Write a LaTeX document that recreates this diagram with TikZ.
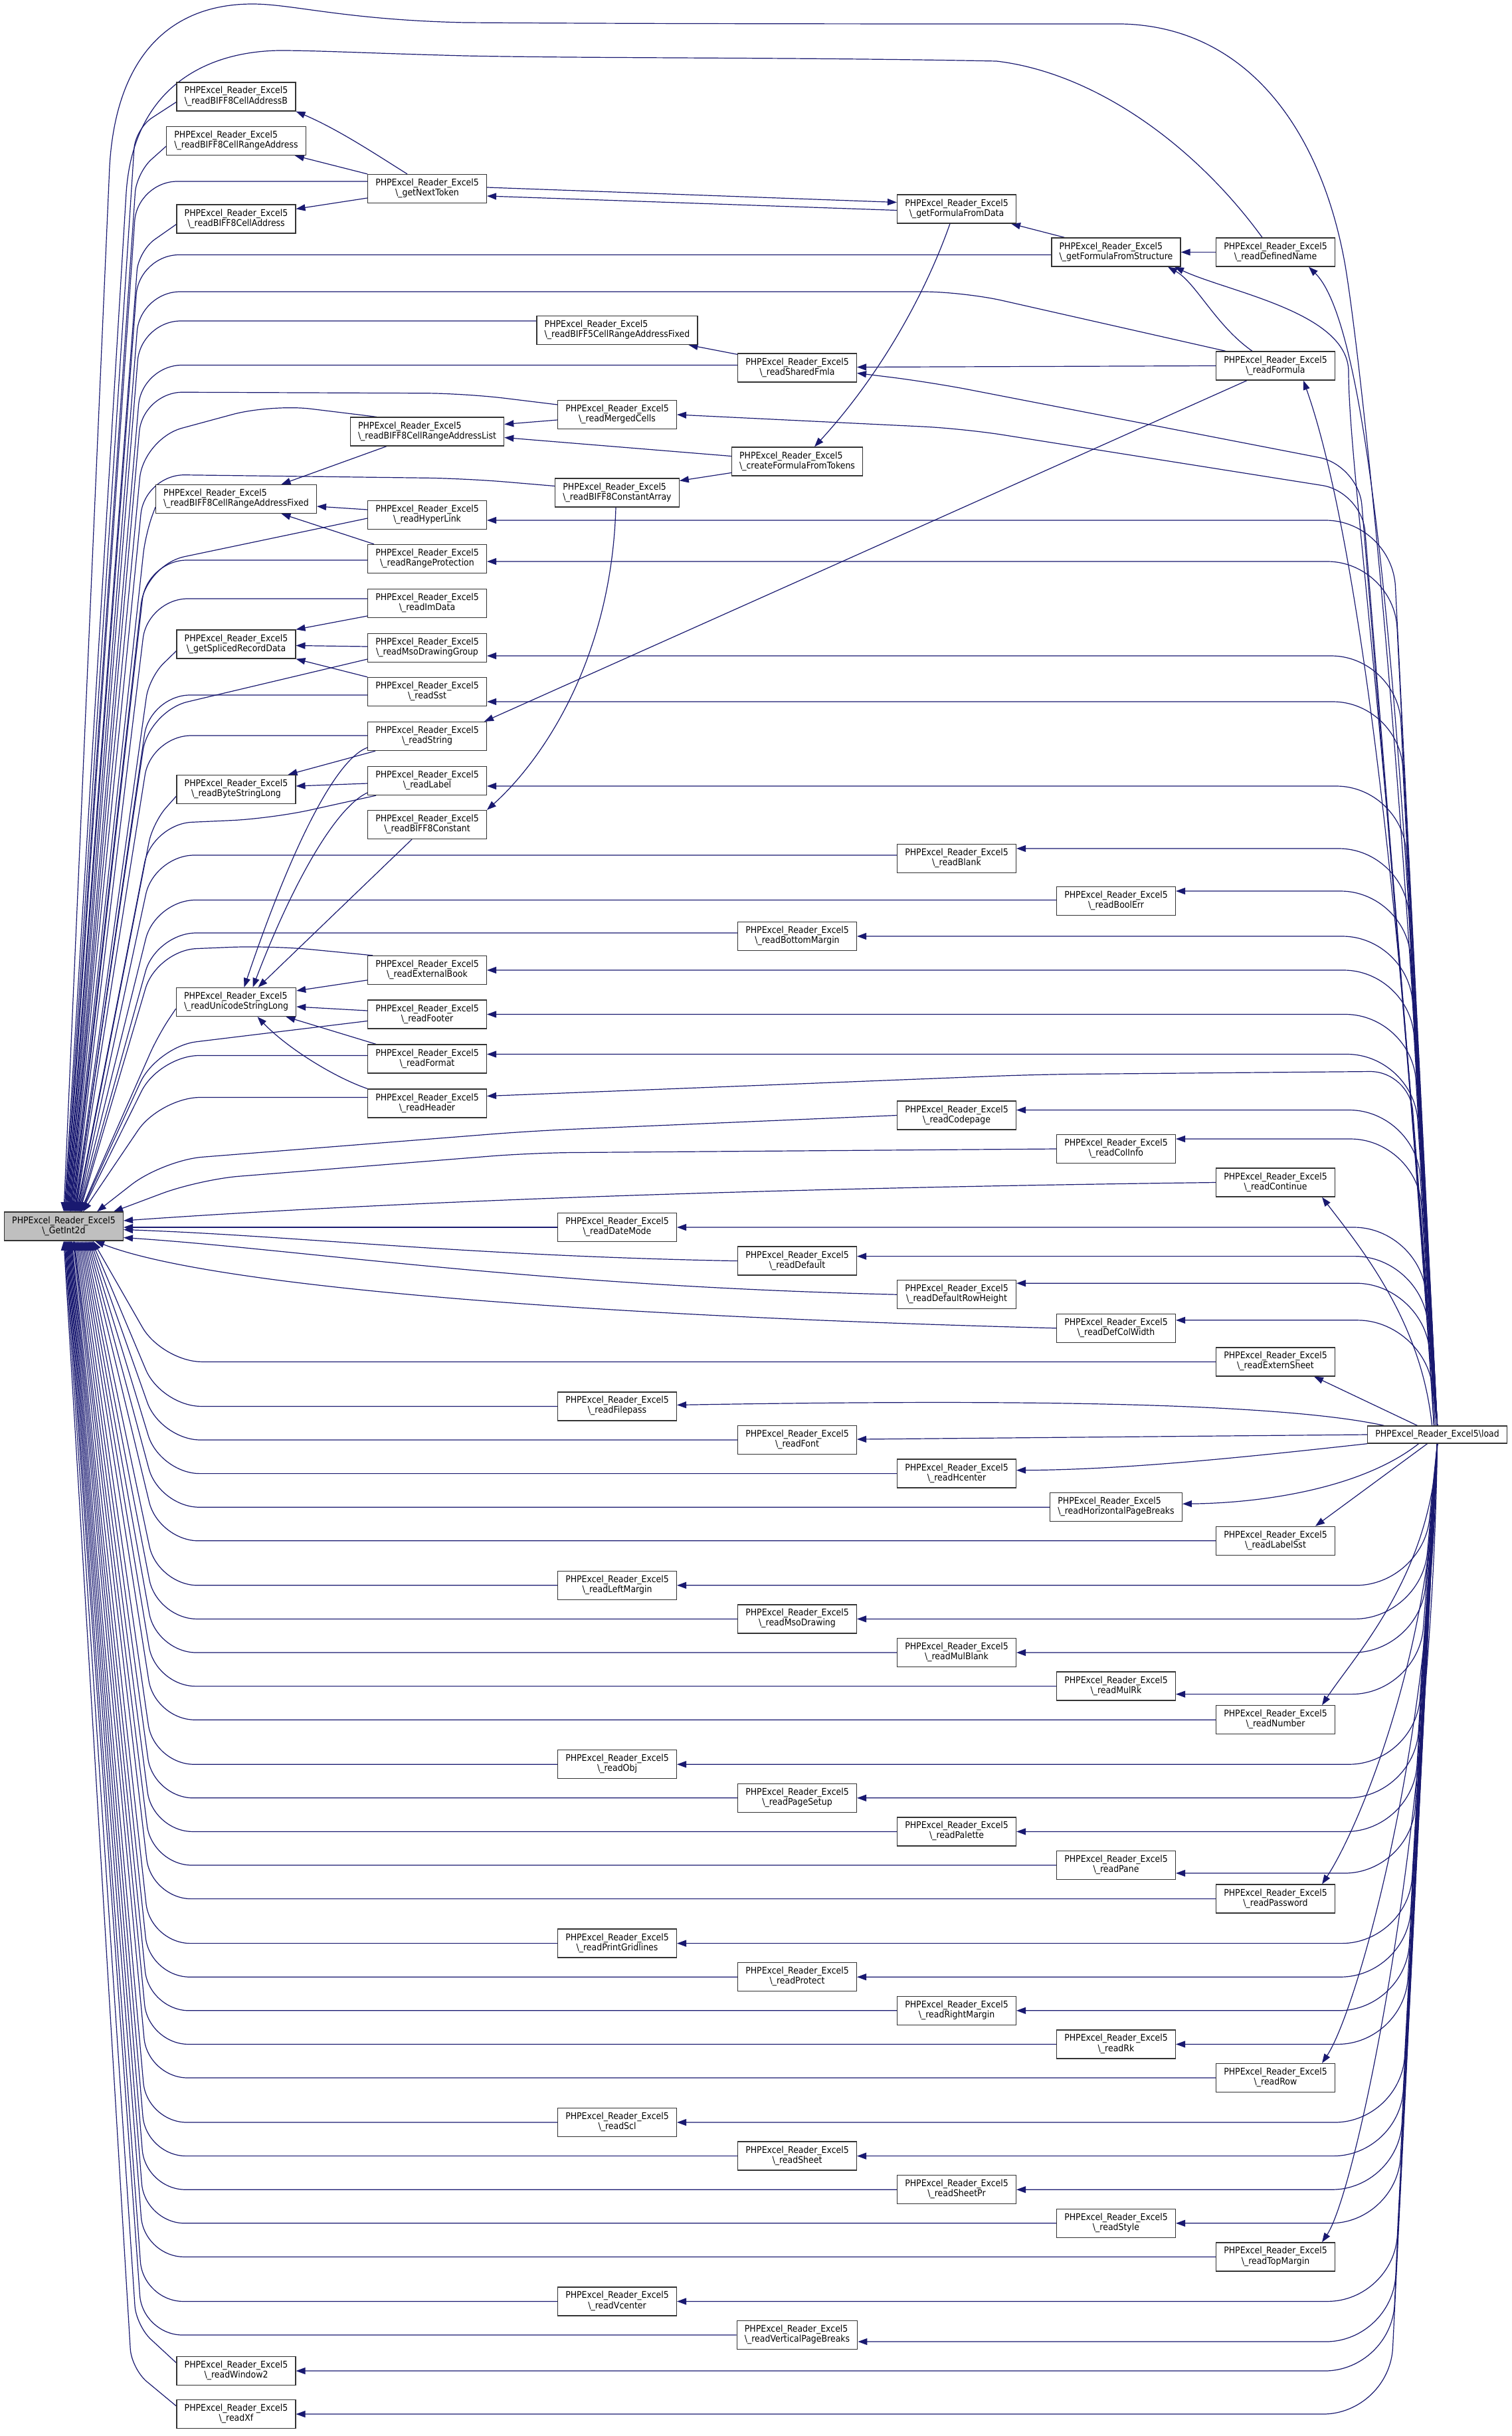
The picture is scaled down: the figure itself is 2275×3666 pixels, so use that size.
\documentclass[tikz,border=0pt]{standalone}
\usepackage{fontspec}
\setmainfont{DejaVu Sans}[FakeStretch=0.9]
\usetikzlibrary{arrows.meta,calc}
\pgfdeclarelayer{bg}
\pgfsetlayers{bg,main}
\definecolor{edgec}{HTML}{191970}
\definecolor{boxc}{HTML}{333333}
\definecolor{gfill}{HTML}{BFBFBF}
\newcommand\lbl[1]{\begin{tabular}{@{}l@{}}PHPExcel\_Reader\_Excel5\\\multicolumn{1}{@{}c@{}}{\textbackslash\_#1}\end{tabular}}
\newcommand\nd[4]{\node[nd] (#1) at (#2,#3) {\lbl{#4}};}
% edges into GetInt2d
\newcommand\gU[2]{\draw[e] let \p1=(#1) in (\p1) -- ({200pt-0.025*(\y1)},\y1) -- ([xshift=#2]G.north);}
\newcommand\gA[2]{\draw[e,rounded corners=30pt] let \p1=(#1) in (\p1) -- ({200pt-0.025*(\y1)},{\y1-40pt}) -- ([xshift=#2]G.north);}
\newcommand\gD[2]{\draw[e] let \p1=(#1) in (\p1) -- ({245pt+0.02*(\y1+2000pt)},\y1) -- ([xshift=#2]G.south);}
% edges from load
\newcommand\lU[1]{\draw[e,rounded corners=100pt] let \p1=(#1) in (load.north) -- ({2150pt-0.04*(2146pt+\y1)},\y1) -- (\p1);}
\newcommand\lD[1]{\draw[e,rounded corners=100pt] let \p1=(#1) in (load.south) -- ({2150pt+0.04*(2172pt+\y1)},\y1) -- (\p1);}
\begin{document}
\begin{tikzpicture}[x=1pt,y=-1pt,
  nd/.style={draw=boxc,line width=1.3pt,fill=white,inner xsep=11.6pt,inner ysep=0pt,minimum height=43pt,font=\fontsize{13.9}{15}\selectfont},
  e/.style={draw=edgec,line width=1.2pt,-{Triangle[length=14pt,width=10pt]},rounded corners=60pt}]
\useasboundingbox (0,0) rectangle (2275,3666);
% ---------------- nodes
\node[nd,fill=gfill] (G) at (96,1845.5) {\lbl{GetInt2d}};
\node[nd,minimum height=26pt] (load) at (2163.5,2159) {PHPExcel\_Reader\_Excel5\textbackslash load};
\nd{rB8CAB}{355.5}{145.5}{readBIFF8CellAddressB}
\nd{rB8CRA}{355.5}{212}{readBIFF8CellRangeAddress}
\nd{gNT}{643}{284}{getNextToken}
\nd{rB8CA}{355.5}{329.5}{readBIFF8CellAddress}
\nd{gFFD}{1440}{314.5}{getFormulaFromData}
\nd{gFFS}{1680}{379.5}{getFormulaFromStructure}
\nd{rDN}{1920}{379.5}{readDefinedName}
\nd{rB5}{929}{497}{readBIFF5CellRangeAddressFixed}
\nd{rSF}{1200}{553.5}{readSharedFmla}
\nd{rF}{1920}{550.5}{readFormula}
\nd{rMC}{929}{624}{readMergedCells}
\nd{rB8L}{643}{649.5}{readBIFF8CellRangeAddressList}
\nd{cFFT}{1200}{694.5}{createFormulaFromTokens}
\nd{rB8CArr}{929}{741.5}{readBIFF8ConstantArray}
\nd{rB8CRAF}{355.5}{751}{readBIFF8CellRangeAddressFixed}
\nd{rHL}{643}{775}{readHyperLink}
\nd{rRP}{643}{841}{readRangeProtection}
\nd{rID}{643}{908}{readImData}
\nd{gSRD}{355.5}{969.5}{getSplicedRecordData}
\nd{rMDG}{643}{975}{readMsoDrawingGroup}
\nd{rSst}{643}{1041}{readSst}
\nd{rS}{643}{1108}{readString}
\nd{rL}{643}{1175}{readLabel}
\nd{rBSL}{355.5}{1188}{readByteStringLong}
\nd{rB8C}{643}{1241}{readBIFF8Constant}
\nd{rBlank}{1440}{1292}{readBlank}
\nd{rBE}{1680}{1356}{readBoolErr}
\nd{rBM}{1200}{1409}{readBottomMargin}
\nd{rEB}{643}{1460}{readExternalBook}
\nd{rUSL}{355.5}{1508}{readUnicodeStringLong}
\nd{rFoot}{643}{1526.5}{readFooter}
\nd{rFmt}{643}{1593.5}{readFormat}
\nd{rHdr}{643}{1660.5}{readHeader}
\nd{rCP}{1440}{1678.5}{readCodepage}
\nd{rCI}{1680}{1729}{readColInfo}
\nd{rCont}{1920}{1779.5}{readContinue}
\nd{rDM}{929}{1847}{readDateMode}
\nd{rDef}{1200}{1897.6}{readDefault}
\nd{rDRH}{1440}{1948.2}{readDefaultRowHeight}
\nd{rDCW}{1680}{1998.8}{readDefColWidth}
\nd{rES}{1920}{2049.4}{readExternSheet}
\nd{rFP}{929}{2116.4}{readFilepass}
\nd{rFont}{1200}{2167}{readFont}
\nd{rHc}{1440}{2217.6}{readHcenter}
\nd{rHPB}{1680}{2268.2}{readHorizontalPageBreaks}
\nd{rLS}{1920}{2318.8}{readLabelSst}
\nd{rLM}{929}{2385.8}{readLeftMargin}
\nd{rMD}{1200}{2436.4}{readMsoDrawing}
\nd{rMB}{1440}{2487}{readMulBlank}
\nd{rMR}{1680}{2537.6}{readMulRk}
\nd{rNum}{1920}{2588.2}{readNumber}
\nd{rObj}{929}{2655.2}{readObj}
\nd{rPS}{1200}{2705.8}{readPageSetup}
\nd{rPal}{1440}{2756.4}{readPalette}
\nd{rPane}{1680}{2807}{readPane}
\nd{rPw}{1920}{2857.6}{readPassword}
\nd{rPG}{929}{2924.6}{readPrintGridlines}
\nd{rProt}{1200}{2975.2}{readProtect}
\nd{rRM}{1440}{3025.8}{readRightMargin}
\nd{rRk}{1680}{3076.4}{readRk}
\nd{rRow}{1920}{3127}{readRow}
\nd{rScl}{929}{3194}{readScl}
\nd{rSh}{1200}{3244.6}{readSheet}
\nd{rSPr}{1440}{3295.2}{readSheetPr}
\nd{rSty}{1680}{3345.8}{readStyle}
\nd{rTM}{1920}{3396.4}{readTopMargin}
\nd{rVc}{929}{3463.4}{readVcenter}
\nd{rVPB}{1200}{3514}{readVerticalPageBreaks}
\nd{rW2}{355.5}{3568}{readWindow2}
\nd{rXf}{355.5}{3633}{readXf}
\begin{pgfonlayer}{bg}
% ---------------- edges among the upper nodes
\draw[e,sharp corners] ([xshift=-30]gNT.north) .. controls (570,235) and (510,195) .. (rB8CAB.south east);
\draw[e] (gNT.north west) -- ([xshift=-17]rB8CRA.south east);
\draw[e] ([yshift=-14]gNT.west) -- ([yshift=15]rB8CA.east);
\draw[e] ([yshift=2]gNT.east) -- ([yshift=10]gFFD.west);
\draw[e] ([yshift=-2]gFFD.west) -- ([yshift=-11]gNT.east);
\draw[e,sharp corners] ([xshift=-10]gFFD.south) .. controls (1390,450) and (1320,570) .. ([xshift=26]cFFT.north);
\draw[e] ([xshift=20]gFFS.north west) -- ([xshift=-8]gFFD.south east);
\draw[e] (rDN.west) -- (gFFS.east);
\draw[e,sharp corners] ([xshift=-35]rF.north) .. controls (1830,490) and (1800,425) .. ([xshift=78]gFFS.south);
\draw[e] (rF.west) -- ([yshift=1]rSF.east);
\draw[e] ([xshift=-43]rF.south) -- ([xshift=-4]rS.north east);
\draw[e] ([yshift=-2]rSF.north west) -- ([xshift=-14]rB5.south east);
\draw[e] ([yshift=-8]rMC.west) -- ([yshift=11]rB8L.east);
\draw[e] ([yshift=8]cFFT.west) -- ([yshift=-9]rB8L.east);
\draw[e] ([yshift=-17]cFFT.west) -- ([yshift=18]rB8CArr.east);
\draw[e,sharp corners] ([xshift=-2]rB8CArr.south) .. controls (920,1000) and (810,1150) .. (rB8C.north east);
\draw[e] ([xshift=-61]rB8L.south) -- ([xshift=68]rB8CRAF.north);
\draw[e] ([yshift=8]rHL.west) -- ([yshift=-11]rB8CRAF.east);
\draw[e] ([xshift=10]rRP.north west) -- ([xshift=68]rB8CRAF.south);
\draw[e] ([yshift=-19]rID.west) -- (gSRD.north east);
\draw[e] ([yshift=2]rMDG.west) -- ([yshift=-2]gSRD.east);
\draw[e] (rSst.north west) -- (gSRD.south east);
\draw[e] ([xshift=12]rS.south west) -- ([xshift=-12]rBSL.north east);
\draw[e] ([yshift=-4]rL.west) -- ([yshift=5]rBSL.east);
\draw[e,sharp corners] ([yshift=-17]rS.west) .. controls (500,1145) and (430,1300) .. ([xshift=12]rUSL.north);
\draw[e,sharp corners] ([yshift=-18]rL.west) .. controls (505,1215) and (440,1330) .. ([xshift=25]rUSL.north);
\draw[e] ([xshift=-23]rB8C.south) -- ([xshift=33]rUSL.north);
\draw[e] ([yshift=-15]rEB.west) -- ([yshift=17]rUSL.east);
\draw[e] ([yshift=5.5]rFoot.west) -- ([yshift=-7]rUSL.east);
\draw[e] ([xshift=13]rFmt.north west) -- ([xshift=75]rUSL.south);
\draw[e,sharp corners] (rHdr.north west) .. controls (500,1620) and (430,1575) .. ([xshift=32]rUSL.south);
% ---------------- edges into GetInt2d from above
\draw[e,sharp corners] ([xshift=-3]load.north) .. controls (2120,1200) and (2050,550) .. (2025,400) .. controls (1990,200) and (1880,40) .. (1688,36) .. controls (1300,36) and (1000,36) .. (700,34) .. controls (520,30) and (440,6) .. (380,6) .. controls (260,6) and (175,80) .. (165,250) -- (G.north);
\draw[e,sharp corners] ([xshift=-20]rDN.north) .. controls (1800,220) and (1650,110) .. (1500,92) .. controls (1200,86) and (900,88) .. (700,84) .. controls (550,80) and (480,76) .. (420,76) .. controls (300,78) and (200,140) .. (190,290) -- ([xshift=1]G.north);
\gA{[yshift=-8]rB8CAB.west}{2}
\gA{[yshift=-8]rB8CRA.west}{3}
\gU{[yshift=11]gNT.west}{4}
\gA{[yshift=-8]rB8CA.west}{5}
\gU{[yshift=-4]gFFS.west}{6}
\draw[e] ([xshift=15]rF.north west) -- (1450,439) -- (211,439) -- ([xshift=7]G.north);
\gU{[yshift=14]rB5.west}{8}
\gU{[yshift=4]rSF.west}{9}
\draw[e] ([yshift=15]rMC.west) -- (700,592) -- (215,590) -- ([xshift=10]G.north);
\draw[e] ([xshift=40]rB8L.north west) -- (408,608) -- (216,660) -- ([xshift=10]G.north);
\draw[e] ([yshift=10]rB8CArr.west) -- (700,720) -- (218,714) -- ([xshift=11]G.north);
\gA{[yshift=-12]rB8CRAF.west}{12}
\draw[e] ([yshift=-5]rHL.west) -- (219,850) -- ([xshift=13]G.north);
\gU{[yshift=-2]rRP.west}{14}
\gU{[yshift=7]rID.west}{15}
\gA{[yshift=-10]gSRD.west}{16}
\draw[e] ([yshift=-17]rMDG.west) -- (224,1070) -- ([xshift=17]G.north);
\gU{[yshift=-5]rSst.west}{17}
\gU{[yshift=1]rS.west}{18}
\draw[e] ([xshift=13]rL.south west) -- (408,1232) -- (229,1240) -- ([xshift=19]G.north);
\gA{[yshift=-10]rBSL.west}{20}
\gU{[yshift=5]rBlank.west}{21}
\gU{[yshift=1.5]rBE.west}{22}
\gU{[yshift=5]rBM.west}{23}
\draw[e] ([xshift=8]rEB.north west) -- (408,1423) -- (236,1430) -- ([xshift=24]G.north);
\gA{[yshift=-10]rUSL.west}{25}
\draw[e] ([yshift=-10]rFoot.west) -- (236,1575) -- ([xshift=26]G.north);
\gU{[yshift=5]rFmt.west}{27}
\gU{[yshift=9]rHdr.west}{29}
\draw[e] (rCP.west) -- (800,1702) -- (245,1746) -- ([xshift=50]G.north);
\draw[e] (rCI.west) -- (800,1735) -- (300,1775) -- ([xshift=75]G.north);
% ---------------- into GetInt2d from the right
\draw[e,sharp corners] (rCont.west) .. controls (1000,1790) and (500,1815) .. ([yshift=8.5]G.east);
\draw[e] (rDM.west) -- ([yshift=-1.5]G.east);
\draw[e,sharp corners] (rDef.west) .. controls (700,1890) and (450,1860) .. ([yshift=-5]G.east);
\draw[e,sharp corners] (rDRH.west) .. controls (800,1935) and (450,1880) .. ([yshift=-17]G.east);
\draw[e,sharp corners] (rDCW.west) .. controls (800,1978) and (300,1930) .. ([xshift=47]G.south);
% ---------------- into GetInt2d from below
\gD{rES.west}{44}
\gD{rFP.west}{42}
\gD{rFont.west}{40}
\gD{rHc.west}{38}
\gD{rHPB.west}{36}
\gD{rLS.west}{34}
\gD{rLM.west}{32}
\gD{rMD.west}{30}
\gD{rMB.west}{28}
\gD{rMR.west}{26}
\gD{rNum.west}{24}
\gD{rObj.west}{22}
\gD{rPS.west}{20}
\gD{rPal.west}{18}
\gD{rPane.west}{16}
\gD{rPw.west}{15}
\gD{rPG.west}{14}
\gD{rProt.west}{12}
\gD{rRM.west}{11}
\gD{rRk.west}{10}
\gD{rRow.west}{9}
\gD{rScl.west}{8}
\gD{rSh.west}{7}
\gD{rSPr.west}{6}
\gD{rSty.west}{5}
\gD{rTM.west}{4}
\gD{rVc.west}{3}
\gD{rVPB.west}{2}
\draw[e,rounded corners=30pt] ([yshift=12]rW2.west) -- (205,3500) -- ([xshift=1]G.south);
\draw[e,rounded corners=30pt] ([yshift=12]rXf.west) -- (198,3565) -- (G.south);
% ---------------- from load, upward
\draw[e,sharp corners] ([xshift=-5]load.north) .. controls (2110,900) and (2050,480) .. ([xshift=50]rDN.south);
\draw[e,sharp corners] ([xshift=-5]load.north) .. controls (2090,1000) and (2000,680) .. ([xshift=42]rF.south);
\draw[e,sharp corners] ([xshift=-5]load.north) .. controls (2090,1100) and (2030,700) .. (2030,560) .. controls (2030,470) and (1850,440) .. ([xshift=88]gFFS.south);
\draw[e] (load.north) -- (2045,700) -- (1400,575) -- ([yshift=-8]rSF.east);
\draw[e] (load.north) -- (2050,740) -- (1450,645) -- (rMC.east);
\lU{[yshift=-8]rHL.east}
\lU{[yshift=-4]rRP.east}
\lU{[yshift=-12]rMDG.east}
\lU{[yshift=-15]rSst.east}
\lU{[yshift=-8]rL.east}
\lU{[yshift=15]rBlank.east}
\lU{[yshift=15]rBE.east}
\lU{rBM.east}
\lU{rEB.east}
\lU{rFoot.east}
\lU{[yshift=7]rFmt.east}
\draw[e] (load.north) -- (2122,1612) -- (1560,1617) -- ([yshift=11]rHdr.east);
\lU{[yshift=8]rCP.east}
\lU{[yshift=15]rCI.east}
\draw[e,sharp corners] ([xshift=-8]load.north) .. controls (2140,1990) and (2050,1880) .. ([xshift=70]rCont.south);
\lU{rDM.east}
\lU{[yshift=7]rDef.east}
\lU{[yshift=17]rDRH.east}
\lU{[yshift=12]rDCW.east}
\draw[e] ([xshift=-30]load.north) -- ([xshift=58]rES.south);
% ---------------- from load, sideways and downward
\draw[e,sharp corners] ([xshift=-80]load.north) .. controls (1900,2105) and (1400,2108) .. ([yshift=2]rFP.east);
\draw[e] (load.west) -- ([yshift=1]rFont.east);
\draw[e,sharp corners] (load.south west) .. controls (1900,2190) and (1700,2212) .. ([yshift=5]rHc.east);
\draw[e,sharp corners] ([xshift=-28]load.south) .. controls (2050,2240) and (1900,2262) .. ([yshift=5]rHPB.east);
\draw[e] ([xshift=-15]load.south) -- ([xshift=60]rLS.north);
\lD{rLM.east}
\lD{rMD.east}
\lD{rMB.east}
\lD{[yshift=-12]rMR.east}
\draw[e,sharp corners] (load.south) .. controls (2155,2370) and (2040,2490) .. ([xshift=70]rNum.north);
\lD{rObj.east}
\lD{rPS.east}
\lD{rPal.east}
\lD{[yshift=-12]rPane.east}
\draw[e,sharp corners] (load.south) .. controls (2155,2500) and (2040,2760) .. ([xshift=70]rPw.north);
\lD{rPG.east}
\lD{rProt.east}
\lD{rRM.east}
\lD{rRk.east}
\draw[e,sharp corners] (load.south) .. controls (2155,2640) and (2040,3030) .. ([xshift=70]rRow.north);
\lD{rScl.east}
\lD{rSh.east}
\lD{rSPr.east}
\lD{rSty.east}
\draw[e,sharp corners] (load.south) .. controls (2155,2770) and (2040,3300) .. ([xshift=70]rTM.north);
\lD{rVc.east}
\lD{[yshift=-10]rVPB.east}
\lD{rW2.east}
\lD{rXf.east}
\end{pgfonlayer}
\end{tikzpicture}
\end{document}
